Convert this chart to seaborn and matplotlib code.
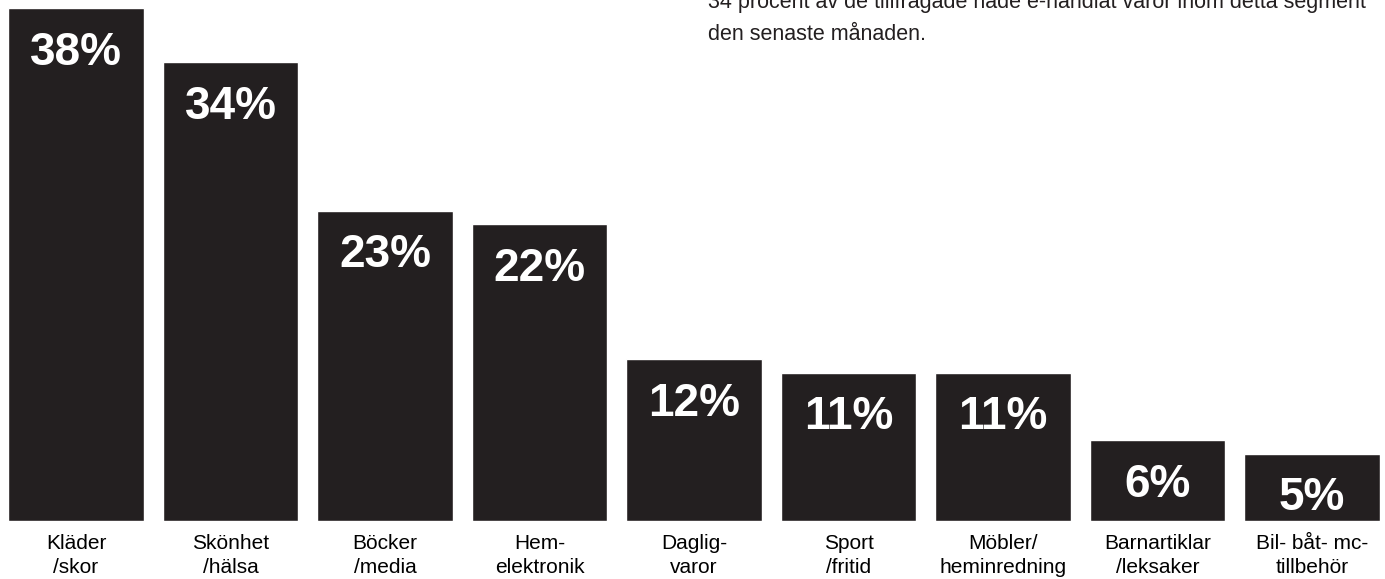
import numpy as np
import pandas as pd
import matplotlib
matplotlib.use('Agg')
import matplotlib.pyplot as plt
import seaborn as sns

# andel som e-handlat inom segmentet senaste månaden (%)
categories = ['Kläder\n/skor', 'Skönhet\n/hälsa', 'Böcker\n/media', 'Hem-\nelektronik',
              'Daglig-\nvaror', 'Sport\n/fritid', 'Möbler/\nheminredning',
              'Barnartiklar\n/leksaker', 'Bil- båt- mc-\ntillbehör']
values = [38, 34, 23, 22, 12, 11, 11, 6, 5]
value_labels = ['38%', '34%', '23%', '22%', '12%', '11%', '11%', '6%', '5%']
note_lines = ['34 procent av de tillfrågade hade e-handlat varor inom detta segment',
              'den senaste månaden.']

ink = '#231f20'

sns.set_style('white')
plt.rcParams['font.family'] = ['Liberation Sans', 'DejaVu Sans']

df = pd.DataFrame({'kategori': categories, 'andel': values})

W, H = 1385, 579
fig = plt.figure(figsize=(W / 100, H / 100), dpi=100)
ax = fig.add_axes([8 / W, 58 / H, 1372 / W, 513 / H])

sns.barplot(data=df, x='kategori', y='andel', color=ink, saturation=1,
            width=0.88, ax=ax)
ax.set_xlim(-0.44, len(values) - 1 + 0.44)
ax.set_ylim(0, 38)

# procentsiffror inne i staplarna
for i, v in enumerate(values):
    ax.annotate(value_labels[i], (i, v), xytext=(0, -41), textcoords='offset points',
                ha='center', va='baseline', color='white', fontsize=33,
                fontweight='bold')

ax.set_xlabel('')
ax.set_ylabel('')
ax.set_yticks([])
ax.tick_params(axis='x', length=0, pad=9.5, labelsize=15, colors='black')
for lab in ax.get_xticklabels():
    lab.set_linespacing(1.3)
sns.despine(left=True, bottom=True)

# förklarande text uppe till höger
fig.text(708 / W, 1 - 8 / H, note_lines[0], fontsize=15.5, va='baseline', color=ink)
fig.text(708 / W, 1 - 40 / H, note_lines[1], fontsize=15.5, va='baseline', color=ink)

fig.savefig('out.png', dpi=100)
